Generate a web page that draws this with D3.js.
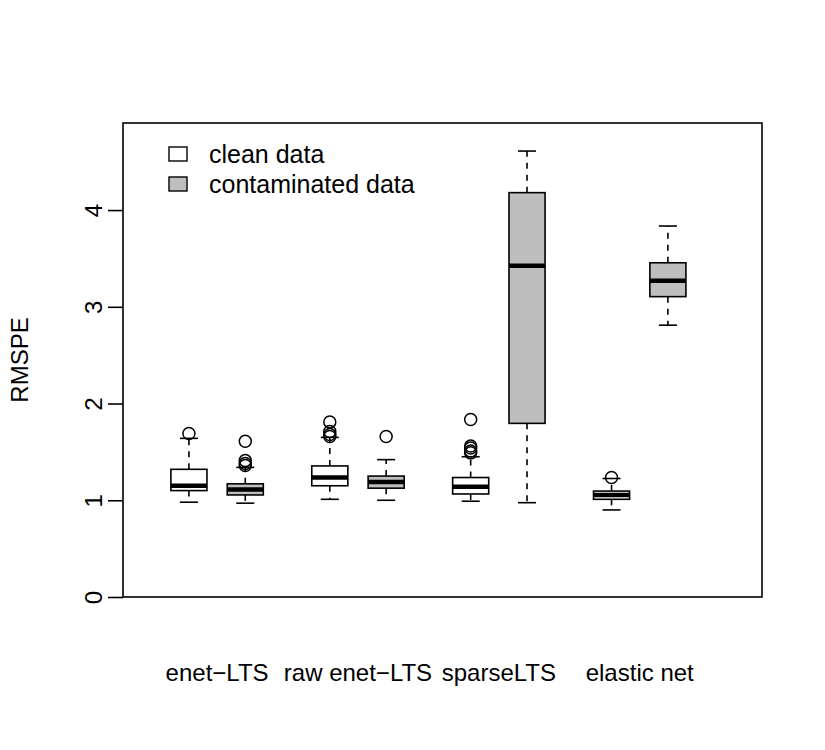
<!DOCTYPE html>
<html lang="en">
<head>
<meta charset="UTF-8">
<title>RMSPE boxplot</title>
<style>
  body { margin: 0; background: white; }
  svg { display: block; font-family: "Liberation Sans", Arial, sans-serif; }
</style>
</head>
<body>
<div id="chart"></div>
<script src="https://d3js.org/d3.v7.min.js"></script>
<script>
// group labels and box positions (clean box first, contaminated second)
var groups = ["enet\u2212LTS", "raw enet\u2212LTS", "sparseLTS", "elastic net"];
var positions = [1, 2, 3.5, 4.5, 6, 7, 8.5, 9.5];
var dataType = ["clean", "contam", "clean", "contam", "clean", "contam", "clean", "contam"];

// box statistics
var whiskerLow = [0.98, 0.97, 1.01, 1.00, 0.99, 0.975, 0.90, 2.81];
var q1 = [1.10, 1.055, 1.15, 1.125, 1.065, 1.795, 1.01, 3.105];
var median = [1.15, 1.11, 1.235, 1.19, 1.14, 3.425, 1.055, 3.27];
var q3 = [1.32, 1.17, 1.355, 1.25, 1.235, 4.18, 1.095, 3.455];
var whiskerHigh = [1.64, 1.34, 1.65, 1.42, 1.45, 4.61, 1.225, 3.835];
var outliers = [
  [1.69],
  [1.61, 1.41, 1.38, 1.36],
  [1.81, 1.71, 1.68, 1.66],
  [1.66],
  [1.835, 1.56, 1.54, 1.51, 1.49],
  [],
  [1.235],
  []
];
var yTicks = [0, 1, 2, 3, 4];
var legendLabels = ["clean data", "contaminated data"];
var fills = { clean: "white", contam: "#bebebe" };

var W = 825, H = 750;
var svg = d3.select("#chart").append("svg")
  .attr("width", W).attr("height", H);

var plotLeft = 123, plotRight = 762, plotTop = 123, plotBottom = 597;

var x = d3.scaleLinear().domain([-0.17, 11.17]).range([plotLeft, plotRight]);
var y = d3.scaleLinear().domain([0, 4.9]).range([plotBottom, plotTop]);

var boxW = 0.64;   // in position units
var capW = boxW / 2;

// boxes
var boxes = svg.append("g");
positions.forEach(function (p, i) {
  var g = boxes.append("g");
  // whiskers
  g.append("line")
    .attr("x1", x(p)).attr("x2", x(p))
    .attr("y1", y(q3[i])).attr("y2", y(whiskerHigh[i]))
    .attr("stroke", "black").attr("stroke-width", 1.6)
    .attr("stroke-dasharray", "6,6");
  g.append("line")
    .attr("x1", x(p)).attr("x2", x(p))
    .attr("y1", y(q1[i])).attr("y2", y(whiskerLow[i]))
    .attr("stroke", "black").attr("stroke-width", 1.6)
    .attr("stroke-dasharray", "6,6");
  // caps
  [whiskerHigh[i], whiskerLow[i]].forEach(function (v) {
    g.append("line")
      .attr("x1", x(p - capW / 2)).attr("x2", x(p + capW / 2))
      .attr("y1", y(v)).attr("y2", y(v))
      .attr("stroke", "black").attr("stroke-width", 1.6);
  });
  // box
  g.append("rect")
    .attr("x", x(p - boxW / 2))
    .attr("y", y(q3[i]))
    .attr("width", x(p + boxW / 2) - x(p - boxW / 2))
    .attr("height", y(q1[i]) - y(q3[i]))
    .attr("fill", fills[dataType[i]])
    .attr("stroke", "black").attr("stroke-width", 1.6);
  // median
  g.append("line")
    .attr("x1", x(p - boxW / 2)).attr("x2", x(p + boxW / 2))
    .attr("y1", y(median[i])).attr("y2", y(median[i]))
    .attr("stroke", "black").attr("stroke-width", 4.5);
  // outliers
  g.selectAll("circle")
    .data(outliers[i])
    .enter()
    .append("circle")
    .attr("cx", x(p))
    .attr("cy", function (d) { return y(d); })
    .attr("r", 6)
    .attr("fill", "none")
    .attr("stroke", "black").attr("stroke-width", 1.5);
});

// frame
svg.append("rect")
  .attr("x", plotLeft).attr("y", plotTop)
  .attr("width", plotRight - plotLeft).attr("height", plotBottom - plotTop)
  .attr("fill", "none").attr("stroke", "black").attr("stroke-width", 1.6);

// y axis
var yAxis = svg.append("g")
  .attr("transform", "translate(" + plotLeft + ",0)")
  .call(d3.axisLeft(y).tickValues(yTicks).tickSize(15).tickPadding(0).tickFormat(d3.format("d")));
yAxis.select(".domain").remove();
yAxis.selectAll(".tick line").attr("stroke-width", 1.6);
yAxis.selectAll(".tick text")
  .attr("transform", "translate(-29,0) rotate(-90)")
  .attr("x", 0).attr("y", 0).attr("dy", "0.35em")
  .style("text-anchor", "middle")
  .style("font-size", "24px")
  .style("font-family", "'Liberation Sans', Arial, sans-serif")
  .attr("fill", "black");

// y title
svg.append("text")
  .attr("transform", "translate(28," + ((plotTop + plotBottom) / 2) + ") rotate(-90)")
  .style("text-anchor", "middle")
  .style("font-size", "24px")
  .text("RMSPE");

// group labels
groups.forEach(function (g, k) {
  var mid = (positions[2 * k] + positions[2 * k + 1]) / 2;
  svg.append("text")
    .attr("x", x(mid)).attr("y", 681)
    .style("text-anchor", "middle")
    .style("font-size", "24px")
    .text(g);
});

// legend
var legend = svg.append("g");
legendLabels.forEach(function (lab, k) {
  legend.append("rect")
    .attr("x", 169).attr("y", 147 + k * 30)
    .attr("width", 18).attr("height", 14)
    .attr("fill", k === 0 ? fills.clean : fills.contam)
    .attr("stroke", "black").attr("stroke-width", 1.4);
  legend.append("text")
    .attr("x", 209).attr("y", 163 + k * 30)
    .style("font-size", "25px")
    .text(lab);
});
</script>
</body>
</html>
